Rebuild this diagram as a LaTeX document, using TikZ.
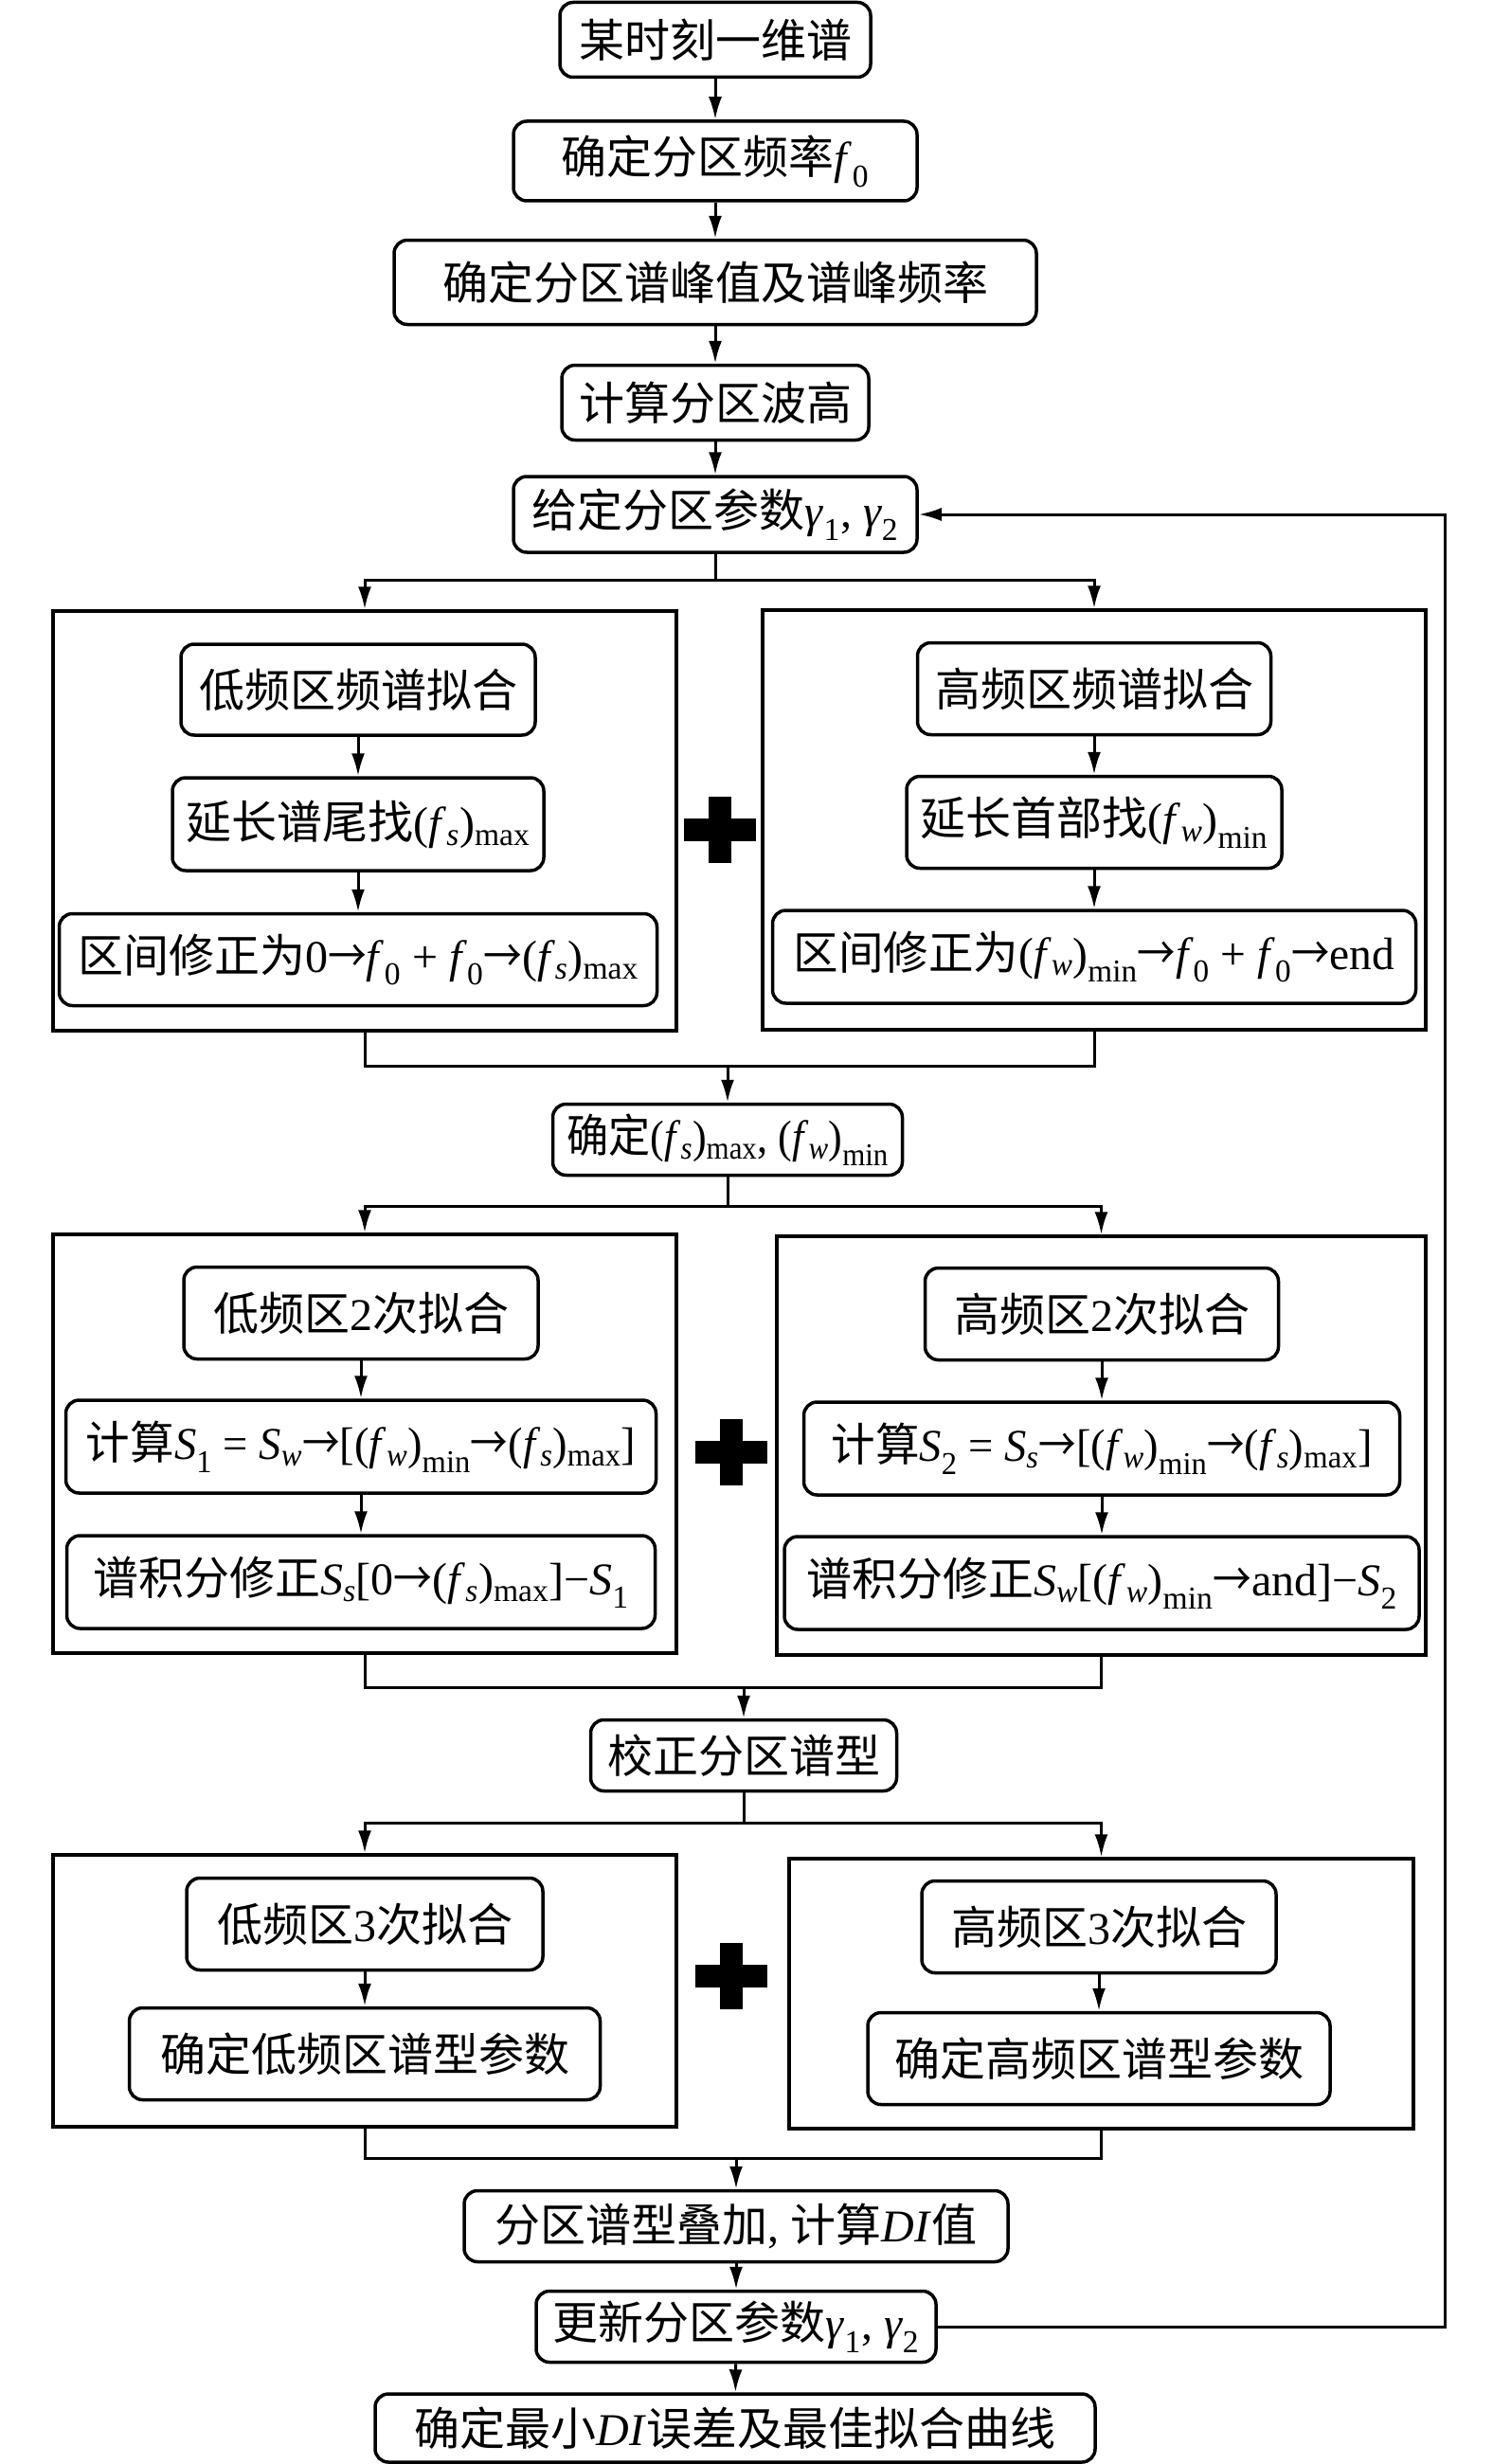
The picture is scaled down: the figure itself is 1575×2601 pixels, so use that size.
\documentclass[tikz,border=0pt]{standalone}
\usepackage{fontspec}
\usepackage{graphicx}
\setmainfont{Liberation Serif}
\newfontfamily\cjk{Noto Sans CJK SC}
\usetikzlibrary{arrows.meta}
\newcommand\zh[1]{{\cjk #1}}
\newcommand\vf[1]{\textit{#1}}
\newcommand\subx[1]{\textsubscript{#1}}
\newcommand\ra{\scalebox{0.85}[1]{\zh{→}}}
\newcommand\hs[2]{\scalebox{#1}[1]{#2}}
\newcommand\fsmax{(\vf{f}\subx{\vf{s}})\subx{max}}
\newcommand\fwmin{(\vf{f}\subx{\vf{w}})\subx{min}}
\tikzset{
  box/.style={draw, line width=3.5pt, rounded corners=14pt, inner sep=0pt, align=center, font=\fontsize{48}{52}\selectfont},
  container/.style={draw, line width=3.5pt},
  conn/.style={line width=3pt},
  arr/.style={line width=3pt, -{Latex[length=24pt,width=14pt]}},
  plussign/.style={fill=black}
}
\begin{document}
\begin{tikzpicture}[x=1pt,y=-1pt]
\useasboundingbox (0,0) rectangle (1575,2601);
% top chain
\node[box, minimum width=328pt, minimum height=79pt] (b1) at (755,42) {\zh{某时刻一维谱}};
\node[box, minimum width=426pt, minimum height=84pt] (b2) at (755,170) {\zh{确定分区频率}\vf{f}\subx{0}};
\node[box, minimum width=678pt, minimum height=89pt] (b3) at (755,298) {\zh{确定分区谱峰值及谱峰频率}};
\node[box, minimum width=324pt, minimum height=79pt] (b4) at (755,425) {\zh{计算分区波高}};
\node[box, minimum width=426pt, minimum height=80pt] (b5) at (755,543) {\zh{给定分区参数}\vf{γ}\subx{1}, \vf{γ}\subx{2}};
\draw[arr] (b1) -- (b2);
\draw[arr] (b2) -- (b3);
\draw[arr] (b3) -- (b4);
\draw[arr] (b4) -- (b5);
% section 1
\node[container, minimum width=658pt, minimum height=443pt] (lc1) at (385,866.5) {};
\node[container, minimum width=700pt, minimum height=443pt] (rc1) at (1155,865.5) {};
\node[box, minimum width=374pt, minimum height=96pt] (l1a) at (378,728) {\zh{低频区频谱拟合}};
\node[box, minimum width=392pt, minimum height=98pt] (l1b) at (378,870) {\zh{延长谱尾找}\fsmax};
\node[box, minimum width=631pt, minimum height=97pt] (l1c) at (378,1013) {\zh{区间修正为}0\ra\vf{f}\subx{0} + \vf{f}\subx{0}\ra\fsmax};
\node[box, minimum width=373pt, minimum height=97pt] (r1a) at (1155,727) {\zh{高频区频谱拟合}};
\node[box, minimum width=396pt, minimum height=97pt] (r1b) at (1155,868) {\zh{延长首部找}\fwmin};
\node[box, minimum width=679pt, minimum height=98pt] (r1c) at (1155,1010) {\hs{0.99}{\zh{区间修正为}\fwmin\ra\vf{f}\subx{0} + \vf{f}\subx{0}\ra end}};
\draw[arr] (l1a) -- (l1b);
\draw[arr] (l1b) -- (l1c);
\draw[arr] (r1a) -- (r1b);
\draw[arr] (r1b) -- (r1c);
\fill[plussign] (722,864) rectangle (798,888);
\fill[plussign] (748,841) rectangle (772,911);
\coordinate (s1) at (755,612);
\draw[conn] (b5) -- (s1);
\draw[arr] (s1) -| (lc1.north);
\draw[arr] (s1) -| (rc1.north);
% merge 1
\node[box, minimum width=369pt, minimum height=75pt] (m1) at (768,1203) {\hs{0.92}{\zh{确定}\fsmax, \fwmin}};
\coordinate (j1) at (768,1125);
\draw[conn] (lc1.south) |- (j1) -| (rc1.south);
\draw[arr] (j1) -- (m1);
% section 2
\node[container, minimum width=658pt, minimum height=442pt] (lc2) at (385,1524) {};
\node[container, minimum width=685pt, minimum height=442pt] (rc2) at (1162.5,1526) {};
\node[box, minimum width=374pt, minimum height=97pt] (l2a) at (381,1386) {\zh{低频区}2\zh{次拟合}};
\node[box, minimum width=623pt, minimum height=98pt] (l2b) at (381,1527) {\hs{0.97}{\zh{计算}\vf{S}\subx{1} = \vf{S}\subx{\vf{w}}\ra[\fwmin\ra\fsmax]}};
\node[box, minimum width=621pt, minimum height=98pt] (l2c) at (381,1670) {\zh{谱积分修正}\vf{S}\subx{\vf{s}}[0\ra\fsmax]−\vf{S}\subx{1}};
\node[box, minimum width=373pt, minimum height=97pt] (r2a) at (1163,1387) {\zh{高频区}2\zh{次拟合}};
\node[box, minimum width=629pt, minimum height=98pt] (r2b) at (1163,1529) {\hs{0.97}{\zh{计算}\vf{S}\subx{2} = \vf{S}\subx{\vf{s}}\ra[\fwmin\ra\fsmax]}};
\node[box, minimum width=670pt, minimum height=98pt] (r2c) at (1163,1671) {\zh{谱积分修正}\vf{S}\subx{\vf{w}}[\fwmin\ra and]−\vf{S}\subx{2}};
\draw[arr] (l2a) -- (l2b);
\draw[arr] (l2b) -- (l2c);
\draw[arr] (r2a) -- (r2b);
\draw[arr] (r2b) -- (r2c);
\fill[plussign] (734,1521) rectangle (810,1545);
\fill[plussign] (760,1498) rectangle (784,1568);
\coordinate (s2) at (768,1273);
\draw[conn] (m1) -- (s2);
\draw[arr] (s2) -| (lc2.north);
\draw[arr] (s2) -| (rc2.north);
% merge 2
\node[box, minimum width=323pt, minimum height=75pt] (m2) at (785,1853) {\zh{校正分区谱型}};
\coordinate (j2) at (785,1781);
\draw[conn] (lc2.south) |- (j2) -| (rc2.south);
\draw[arr] (j2) -- (m2);
% section 3
\node[container, minimum width=658pt, minimum height=287pt] (lc3) at (385,2101.5) {};
\node[container, minimum width=659pt, minimum height=285pt] (rc3) at (1162.5,2104.5) {};
\node[box, minimum width=376pt, minimum height=97pt] (l3a) at (385,2031) {\zh{低频区}3\zh{次拟合}};
\node[box, minimum width=497pt, minimum height=97pt] (l3b) at (385,2168) {\zh{确定低频区谱型参数}};
\node[box, minimum width=374pt, minimum height=97pt] (r3a) at (1160,2034) {\zh{高频区}3\zh{次拟合}};
\node[box, minimum width=488pt, minimum height=97pt] (r3b) at (1160,2173) {\zh{确定高频区谱型参数}};
\draw[arr] (l3a) -- (l3b);
\draw[arr] (r3a) -- (r3b);
\fill[plussign] (734,2074) rectangle (810,2098);
\fill[plussign] (760,2051) rectangle (784,2121);
\coordinate (s3) at (785,1924);
\draw[conn] (m2) -- (s3);
\draw[arr] (s3) -| (lc3.north);
\draw[arr] (s3) -| (rc3.north);
% merge 3
\node[box, minimum width=574pt, minimum height=75pt] (m3) at (777,2350) {\zh{分区谱型叠加}, \zh{计算}\vf{DI}\zh{值}};
\node[box, minimum width=422pt, minimum height=75pt] (m4) at (777,2456) {\zh{更新分区参数}\vf{γ}\subx{1}, \vf{γ}\subx{2}};
\node[box, minimum width=760pt, minimum height=72pt] (m5) at (776,2563) {\zh{确定最小}\vf{DI}\zh{误差及最佳拟合曲线}};
\coordinate (j3) at (777,2278);
\draw[conn] (lc3.south) |- (j3) -| (rc3.south);
\draw[arr] (j3) -- (m3);
\draw[arr] (m3) -- (m4);
\draw[arr] (m4) -- (m5);
% feedback
\coordinate (fb) at (1525,2456);
\draw[arr] (m4.east) -- (fb) |- (b5.east);
\end{tikzpicture}
\end{document}
